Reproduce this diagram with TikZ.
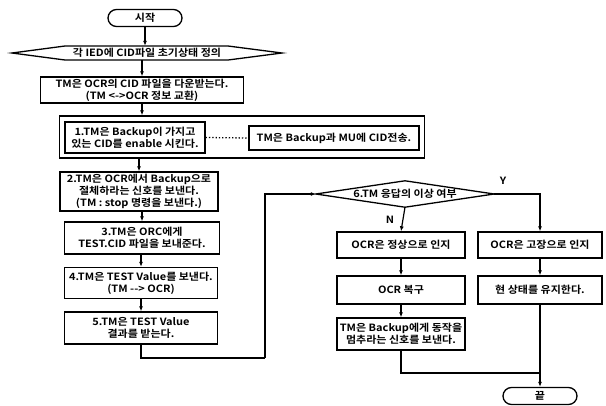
\documentclass[tikz,border=0pt]{standalone}
\usepackage{fontspec}
\setmainfont{Noto Sans CJK KR}[BoldFont={Noto Sans CJK KR Bold}, FakeStretch=1.1]
\usetikzlibrary{arrows.meta}
\begin{document}
\begin{tikzpicture}[x=1pt,y=-1pt,
  font=\fontsize{10}{12}\selectfont\bfseries,
  every node/.style={inner sep=0pt, align=center},
  proc/.style={draw, line width=1.3pt, minimum height=#1},
  proc/.default=26pt,
  term/.style={draw, line width=1.3pt, rounded corners=8.5pt, minimum width=74pt, minimum height=17pt},
  flow/.style={line width=1.2pt, -{Latex[length=5pt,width=4pt]}},
  plain/.style={line width=1.2pt}]
\useasboundingbox (0,0) rectangle (606,405);
% left column
\node[term] (start) at (145,18) {시작};
\node[minimum width=270pt, minimum height=14pt] (hex) at (147,53) {각 IED에 CID파일 초기상태 정의};
\draw[line width=1.3pt] (12,53) -- (65,46) -- (228,46) -- (282,53) -- (228,60) -- (65,60) -- cycle;
\node[proc, minimum width=203pt] (boxA) at (142,90) {TM은 OCR의 CID 파일을 다운받는다.\\(TM <{}->OCR 정보 교환)};
\node[proc=42pt, minimum width=365pt] (outer) at (242,137) {};
\node[proc=31pt, minimum width=140pt] (box1) at (135,137.5) {1.TM은 Backup이 가지고\\있는 CID를 enable 시킨다.};
\node[proc=24pt, minimum width=170pt] (boxR) at (334,138) {TM은 Backup과 MU에 CID전송.};
\node[proc=39pt, minimum width=158pt] (box2) at (139,191.5) {2.TM은 OCR에서 Backup으로\\절체하라는 신호를 보낸다.\\(TM : stop 명령을 보낸다.)};
\node[proc=32pt, minimum width=155pt] (box3) at (142,238) {3.TM은 ORC에게\\TEST.CID 파일을 보내준다.};
\node[proc=31pt, minimum width=153pt] (box4) at (141,283) {4.TM은 TEST Value를 보낸다.\\(TM -{}-{}> OCR)};
\node[proc=32pt, minimum width=153pt] (box5) at (141,328) {5.TM은 TEST Value\\결과를 받는다.};
\coordinate (r1) at (141,358);
\coordinate (r2) at (265,358);
% decision
\node[minimum width=178pt, minimum height=26pt] (d6) at (405,194) {6.TM 응답의 이상 여부};
\draw[line width=1.3pt] (d6.west) -- (d6.north) -- (d6.east) -- (d6.south) -- cycle;
\node (Y) at (503,181) {Y};
\node (N) at (390,220) {N};
% right part
\node[proc, minimum width=128pt] (n1) at (401,245) {OCR은 정상으로 인지};
\node[proc=28pt, minimum width=128pt] (n2) at (401,290) {OCR 복구};
\node[proc=32pt, minimum width=128pt] (n3) at (401,334) {TM은 Backup에게 동작을\\멈추라는 신호를 보낸다.};
\node[proc, minimum width=124pt] (y1) at (540,245) {OCR은 고장으로 인지};
\node[proc=28pt, minimum width=124pt] (y2) at (540,290) {현 상태를 유지한다.};
\node[term] (end) at (540,396) {끝};
\coordinate (j) at (540,373);
% connectors
\draw[flow] (start) -- (start |- hex.north);
\draw[flow] (hex.south -| boxA.north) -- (boxA.north);
\draw[flow] (boxA.south) -- (boxA.south |- outer.north);
\draw[line width=1.3pt, dotted] (box1.east) -- (boxR.west);
\draw[flow] (box2.north |- outer.south) -- (box2.north);
\draw[flow] (box2.south -| box3.north) -- (box3.north);
\draw[flow] (box3.south -| box4.north) -- (box4.north);
\draw[flow] (box4.south) -- (box5.north);
\draw[plain] (box5.south) -- (r1) -- (r2);
\draw[flow] (r2) |- (d6.west);
\draw[flow] (d6.south) -- (n1.north);
\draw[flow] (d6.east) -| (y1.north);
\draw[flow] (n1) -- (n2);
\draw[flow] (n2) -- (n3);
\draw[flow] (y1) -- (y2);
\draw[plain] (n3.south) |- (j);
\draw[flow] (y2.south) -- (end.north);
\end{tikzpicture}
\end{document}
